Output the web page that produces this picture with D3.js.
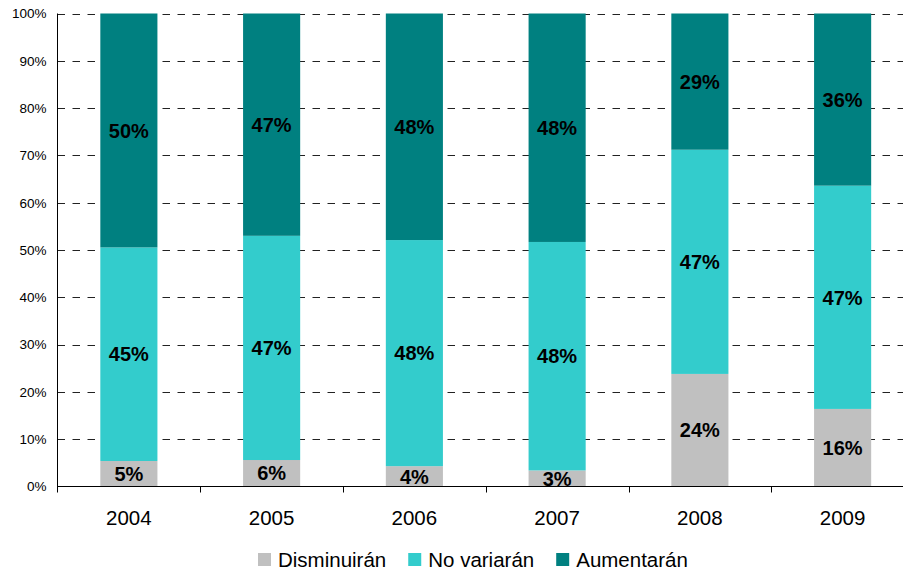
<!DOCTYPE html>
<html>
<head>
<meta charset="utf-8">
<script src="https://cdn.jsdelivr.net/npm/d3@7"></script>
<style>
  html, body { margin: 0; padding: 0; background: #fff; }
  svg { display: block; font-family: "Liberation Sans", Arial, sans-serif; }
</style>
</head>
<body>
<svg id="chart" width="903" height="571"></svg>
<script>
const years = ["2004", "2005", "2006", "2007", "2008", "2009"];
const seriesNames = ["Disminuirán", "No variarán", "Aumentarán"];
const disminuiran = [5.4, 5.6, 4.3, 3.4, 23.8, 16.4];
const noVariaran  = [45.2, 47.4, 47.8, 48.3, 47.4, 47.2];
const aumentaran  = [49.5, 47.0, 47.9, 48.3, 28.8, 36.4];
const yTicks = [0, 0.1, 0.2, 0.3, 0.4, 0.5, 0.6, 0.7, 0.8, 0.9, 1.0];
const colors = ["#C0C0C0", "#33CCCC", "#008080"];

const keys = ["d", "n", "a"];
const rows = years.map((yr, i) => ({ year: yr, d: disminuiran[i], n: noVariaran[i], a: aumentaran[i] }));

const svg = d3.select("#chart");
const mLeft = 57.5, mRight = 914, mTop = 13.5, mBottom = 486.5;

const x = d3.scaleBand().domain(years).range([mLeft, mRight]).paddingInner(0).paddingOuter(0);
const y = d3.scaleLinear().domain([0, 1]).range([mBottom, mTop]);

const stack = d3.stack().keys(keys).offset(d3.stackOffsetExpand);
const stacked = stack(rows);

// gridlines
svg.append("g").selectAll("line")
  .data(yTicks.filter(t => t > 0))
  .join("line")
  .attr("x1", mLeft).attr("x2", 903)
  .attr("y1", d => Math.round(y(d)) + 0.5).attr("y2", d => Math.round(y(d)) + 0.5)
  .attr("stroke", "#222").attr("stroke-width", 1)
  .attr("stroke-dasharray", "7.5,7.5");

const barW = x.bandwidth() * 0.4;

// bars
const layers = svg.append("g").selectAll("g")
  .data(stacked)
  .join("g")
  .attr("fill", (d, i) => colors[i]);

layers.selectAll("rect")
  .data(d => d)
  .join("rect")
  .attr("x", d => x(d.data.year) + (x.bandwidth() - barW) / 2)
  .attr("width", barW)
  .attr("y", d => y(d[1]))
  .attr("height", d => y(d[0]) - y(d[1]));

// clip for labels
svg.append("clipPath").attr("id", "plotclip")
  .append("rect").attr("x", mLeft).attr("y", 0).attr("width", mRight - mLeft).attr("height", mBottom);

const labelG = svg.append("g").attr("clip-path", "url(#plotclip)");
stacked.forEach((layer, li) => {
  labelG.selectAll(null)
    .data(layer)
    .join("text")
    .attr("x", d => x(d.data.year) + x.bandwidth() / 2)
    .attr("y", d => y((d[0] + d[1]) / 2))
    .attr("dy", "0.36em")
    .attr("text-anchor", "middle")
    .attr("font-size", "20px")
    .attr("font-weight", "bold")
    .attr("fill", "#000")
    .text(d => Math.round(d.data[keys[li]]) + "%");
});

// y axis
const yAxis = d3.axisLeft(y).tickValues(yTicks).tickFormat(d3.format(".0%")).tickSize(0).tickPadding(11);
const yg = svg.append("g").attr("transform", `translate(${mLeft},0)`).call(yAxis);
yg.select(".domain").attr("stroke", "#000").attr("d", `M0,${mTop}V${mBottom + 6}`);
yg.selectAll("text").attr("font-size", "13.5px").attr("fill", "#000")
  .attr("font-family", "Liberation Sans, Arial, sans-serif");

// x axis
const xg = svg.append("g").attr("transform", `translate(0,${mBottom})`);
xg.append("line").attr("x1", mLeft).attr("x2", 903).attr("y1", 0).attr("y2", 0).attr("stroke", "#000");
xg.selectAll("line.tk")
  .data(years.slice(1))
  .join("line").attr("class", "tk")
  .attr("x1", d => Math.round(x(d)) + 0.5).attr("x2", d => Math.round(x(d)) + 0.5)
  .attr("y1", 0).attr("y2", 6).attr("stroke", "#000");
xg.selectAll("text")
  .data(years)
  .join("text")
  .attr("x", d => x(d) + x.bandwidth() / 2)
  .attr("y", 38.5)
  .attr("text-anchor", "middle")
  .attr("font-size", "20.5px")
  .attr("fill", "#000")
  .text(d => d);

// legend
const legend = svg.append("g").attr("transform", "translate(258,0)");
let cx = 0;
seriesNames.forEach((name, i) => {
  const g = legend.append("g").attr("transform", `translate(${cx},0)`);
  g.append("rect").attr("x", 0).attr("y", 553).attr("width", 13).attr("height", 13).attr("fill", colors[i]);
  const t = g.append("text").attr("x", 20).attr("y", 566.5).attr("font-size", "20.5px").attr("fill", "#000").text(name);
  cx += 20 + t.node().getComputedTextLength() + 22;
});
</script>
</body>
</html>
